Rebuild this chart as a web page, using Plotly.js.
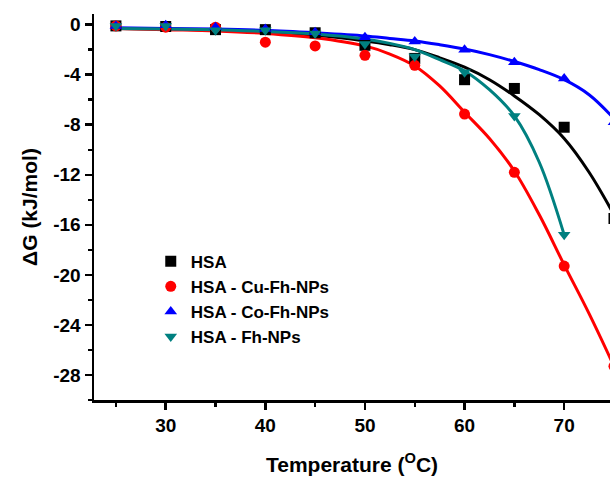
<!DOCTYPE html>
<html>
<head>
<meta charset="utf-8">
<script src="https://cdn.plot.ly/plotly-3.0.1.min.js"></script>
<style>html,body{margin:0;padding:0;background:#fff;}#chart{width:610px;height:483px;}</style>
</head>
<body>
<div id="chart"></div>
<script>
// Measured points
const temps = [25, 30, 35, 40, 45, 50, 55, 60, 65, 70, 75];
const hsa   = [-0.1, -0.15, -0.4, -0.4, -0.65, -1.65, -2.7, -4.4, -5.1, -8.2, -15.5];
const cuFh  = [-0.1, -0.2, -0.2, -1.4, -1.7, -2.45, -3.25, -7.15, -11.8, -19.3, -27.3];
const coFh  = [-0.1, -0.05, -0.2, -0.35, -0.6, -1.0, -1.35, -2.0, -3.0, -4.3, -7.8];
const fhTemps = [25, 30, 35, 40, 45, 50, 55, 60, 65, 70];
const fh    = [-0.1, -0.1, -0.45, -0.45, -0.7, -1.55, -2.55, -3.8, -7.3, -16.8];

// Fitted curves
const fitT    = [25, 30, 35, 40, 45, 50, 52.5, 55, 57.5, 60, 62.5, 65, 67.5, 70, 72.5, 75];
const hsaFit  = [-0.3, -0.35, -0.45, -0.6, -0.85, -1.3, -1.6, -2.0, -2.65, -3.4, -4.4, -5.7, -7.2, -9.1, -11.8, -15.2];
const cuFit   = [-0.3, -0.4, -0.5, -0.7, -1.05, -1.7, -2.35, -3.3, -4.9, -7.0, -9.1, -11.7, -15.2, -19.2, -23.1, -27.3];
const coFit   = [-0.25, -0.3, -0.35, -0.45, -0.65, -0.9, -1.1, -1.3, -1.6, -1.95, -2.4, -2.95, -3.6, -4.4, -5.6, -7.5];
const fhFitT  = [25, 30, 35, 40, 45, 50, 52.5, 55, 57.5, 60, 62.5, 65, 67.5, 70];
const fhFit   = [-0.3, -0.35, -0.4, -0.55, -0.75, -1.15, -1.5, -2.0, -2.8, -3.7, -5.2, -7.3, -11.0, -16.8];

const seriesNames = ['HSA', 'HSA - Cu-Fh-NPs', 'HSA - Co-Fh-NPs', 'HSA - Fh-NPs'];
const yTickVals = [0, -4, -8, -12, -16, -20, -24, -28];
const yTickText = ['0', '-4', '-8', '-12', '-16', '-20', '-24', '-28'];
const xTickVals = [30, 40, 50, 60, 70];
const xTickText = ['30', '40', '50', '60', '70'];

const colors = ['#000000', '#ff0000', '#0000ff', '#008080'];
const symbols = ['square', 'circle', 'triangle-up', 'triangle-down'];

function fitLine(x, y, c) {
  return {x: x, y: y, mode: 'lines', line: {color: c, width: 3, shape: 'spline', smoothing: 1}, showlegend: false, hoverinfo: 'skip'};
}
function pts(x, y, i) {
  return {x: x, y: y, mode: 'markers', name: seriesNames[i],
    marker: {color: colors[i], symbol: symbols[i], size: 11, line: {width: 0}}};
}

const data = [
  fitLine(fitT, hsaFit, colors[0]),
  fitLine(fitT, cuFit, colors[1]),
  fitLine(fitT, coFit, colors[2]),
  fitLine(fhFitT, fhFit, colors[3]),
  pts(temps, hsa, 0),
  pts(temps, cuFh, 1),
  pts(temps, coFh, 2),
  pts(fhTemps, fh, 3)
];

const font = {family: 'Arial, "Liberation Sans", sans-serif', color: '#000', weight: 'bold'};

const layout = {
  width: 610, height: 483,
  margin: {l: 94, r: 0, t: 14, b: 83},
  paper_bgcolor: '#fff', plot_bgcolor: '#fff',
  font: Object.assign({size: 19}, font),
  showlegend: true,
  legend: {x: 0.11, y: 0.405, xanchor: 'left', yanchor: 'top', bgcolor: 'rgba(0,0,0,0)',
    font: Object.assign({size: 17}, font), tracegroupgap: 0},
  xaxis: {
    range: [22.8, 74.6], showgrid: false, zeroline: false,
    showline: true, linecolor: '#000', linewidth: 2.5,
    ticks: 'outside', ticklen: 7, tickwidth: 2.5, tickcolor: '#000',
    tickvals: xTickVals, ticktext: xTickText,
    tickfont: Object.assign({size: 19}, font),
    minor: {dtick: 5, tick0: 0, ticks: 'outside', ticklen: 4, tickwidth: 2.5, tickcolor: '#000'},
    title: {text: 'Temperature (<sup>O</sup>C)', font: Object.assign({size: 21}, font), standoff: 22}
  },
  yaxis: {
    range: [-30, 0.85], showgrid: false, zeroline: false,
    showline: true, linecolor: '#000', linewidth: 2.5,
    ticks: 'outside', ticklen: 7, tickwidth: 2.5, tickcolor: '#000',
    tickvals: yTickVals, ticktext: yTickText,
    tickfont: Object.assign({size: 19}, font),
    minor: {dtick: 2, tick0: 0, ticks: 'outside', ticklen: 4, tickwidth: 2.5, tickcolor: '#000'},
    title: {text: 'ΔG (kJ/mol)', font: Object.assign({size: 21}, font), standoff: 10}
  }
};

Plotly.newPlot('chart', data, layout, {displayModeBar: false, staticPlot: true});
</script>
</body>
</html>
